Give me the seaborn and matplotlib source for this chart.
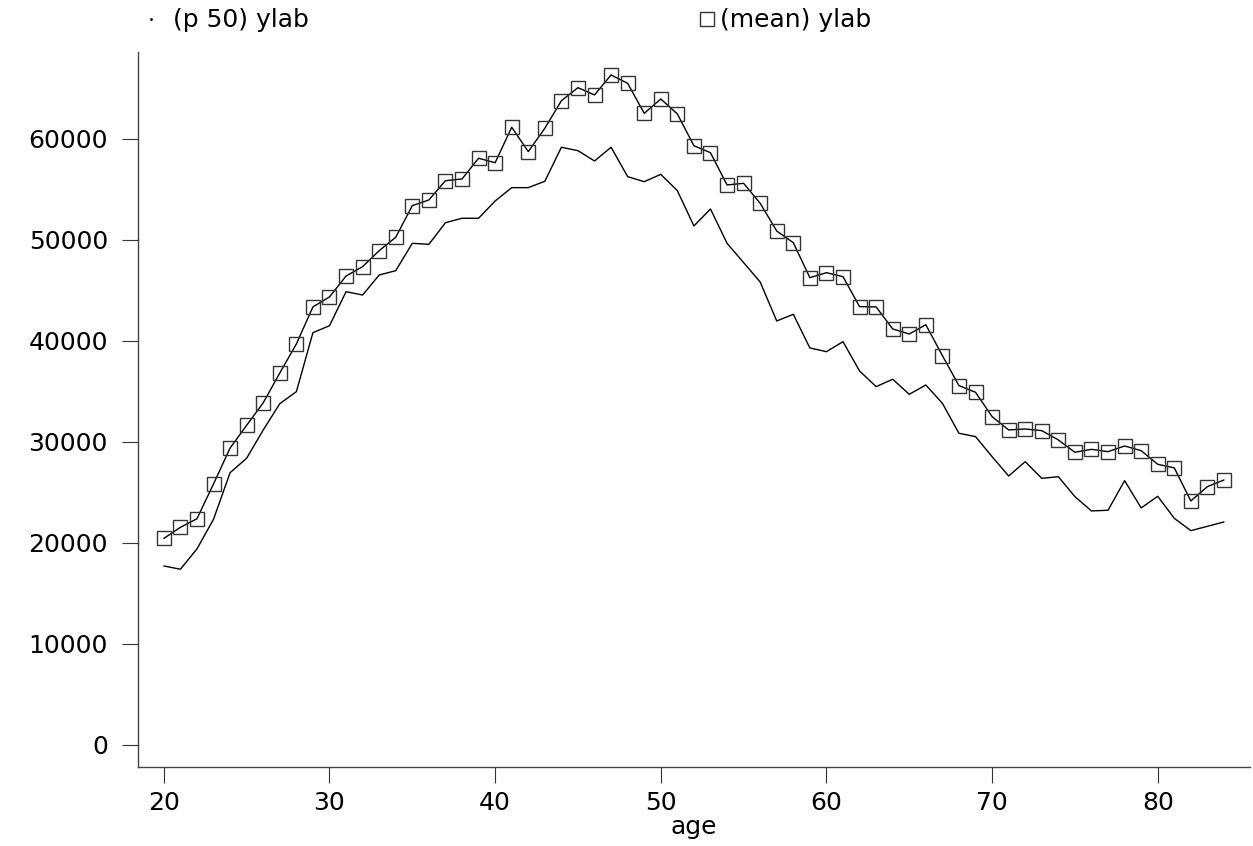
import numpy as np
import pandas as pd
import matplotlib
matplotlib.use('Agg')
import matplotlib.pyplot as plt
from matplotlib.lines import Line2D
import seaborn as sns

sns.set_style('white')
plt.rcParams['font.family'] = ['DejaVu Sans']
plt.rcParams['text.color'] = 'black'

# values
age = list(range(20, 85))
p50 = [17720, 17400, 19410, 22350, 26960, 28390, 31190, 33790, 34980, 40820,
       41510, 44880, 44550, 46530, 46960, 49670, 49570, 51710, 52150, 52150,
       53860, 55180, 55180, 55810, 59180, 58840, 57820, 59180, 56270, 55770,
       56500, 54880, 51390, 53070, 49670, 47760, 45840, 41980, 42640, 39310,
       38940, 39930, 37030, 35480, 36210, 34720, 35640, 33830, 30860, 30530,
       28550, 26630, 28050, 26400, 26560, 24590, 23170, 23240, 26170, 23470,
       24620, 22440, 21220, 21650, 22080]
mean = [20450, 21550, 22400, 25850, 29400, 31650, 33880, 36830, 39700, 43370,
        44360, 46430, 47360, 48940, 50270, 53400, 53960, 55870, 56040, 58090,
        57650, 61160, 58750, 61060, 63790, 65080, 64360, 66340, 65510, 62540,
        63960, 62480, 59330, 58640, 55450, 55610, 53630, 50890, 49730, 46270,
        46760, 46370, 43400, 43370, 41190, 40690, 41610, 38550, 35580, 34920,
        32510, 31190, 31290, 31120, 30200, 28980, 29270, 29040, 29600, 29140,
        27790, 27430, 24160, 25580, 26240]
x_ticks = [20, 30, 40, 50, 60, 70, 80]
y_ticks = [0, 10000, 20000, 30000, 40000, 50000, 60000]

df = pd.DataFrame({'age': age, 'p50': p50, 'mean': mean})

fig = plt.figure(figsize=(12.53, 8.46), dpi=100)
ax = fig.add_axes([0.110, 0.0934, 0.888, 0.845])

sns.lineplot(data=df, x='age', y='p50', ax=ax, color='black', lw=1.0)
sns.lineplot(data=df, x='age', y='mean', ax=ax, color='black', lw=1.0,
             marker='s', markersize=9.5, markerfacecolor='none',
             markeredgecolor='#333333', markeredgewidth=1.0)

ax.set_xlim(18.43, 85.6)
ax.set_ylim(-2180, 68600)
ax.set_xticks(x_ticks)
ax.set_yticks(y_ticks)
ax.tick_params(axis='both', labelsize=18, labelcolor='black', length=11.5,
               width=0.8, direction='out', color='#333333',
               bottom=True, left=True)
ax.tick_params(axis='x', pad=6)
ax.tick_params(axis='y', pad=10)
ax.set_xlabel('age', fontsize=18, color='black', labelpad=0)
ax.set_ylabel('')
for s in ['top', 'right']:
    ax.spines[s].set_visible(False)
for s in ['left', 'bottom']:
    ax.spines[s].set_color('#444444')
    ax.spines[s].set_linewidth(1.0)

# legend entries placed like the Stata legend on top
h_p50 = Line2D([], [], ls='none', marker='.', markersize=2, color='black')
h_mean = Line2D([], [], ls='none', marker='s', markersize=9.5,
                markerfacecolor='none', markeredgecolor='#333333',
                markeredgewidth=1.0)
leg_kw = dict(loc='center left', frameon=False, fontsize=18, handlelength=0.4,
              borderpad=0, borderaxespad=0)
fig.legend([h_p50], ['(p 50) ylab'], bbox_to_anchor=(146 / 1253, 0.976),
           handletextpad=0.68, **leg_kw)
fig.legend([h_mean], ['(mean) ylab'], bbox_to_anchor=(702 / 1253, 0.976),
           handletextpad=0.32, **leg_kw)

fig.savefig('out.png', dpi=100)
